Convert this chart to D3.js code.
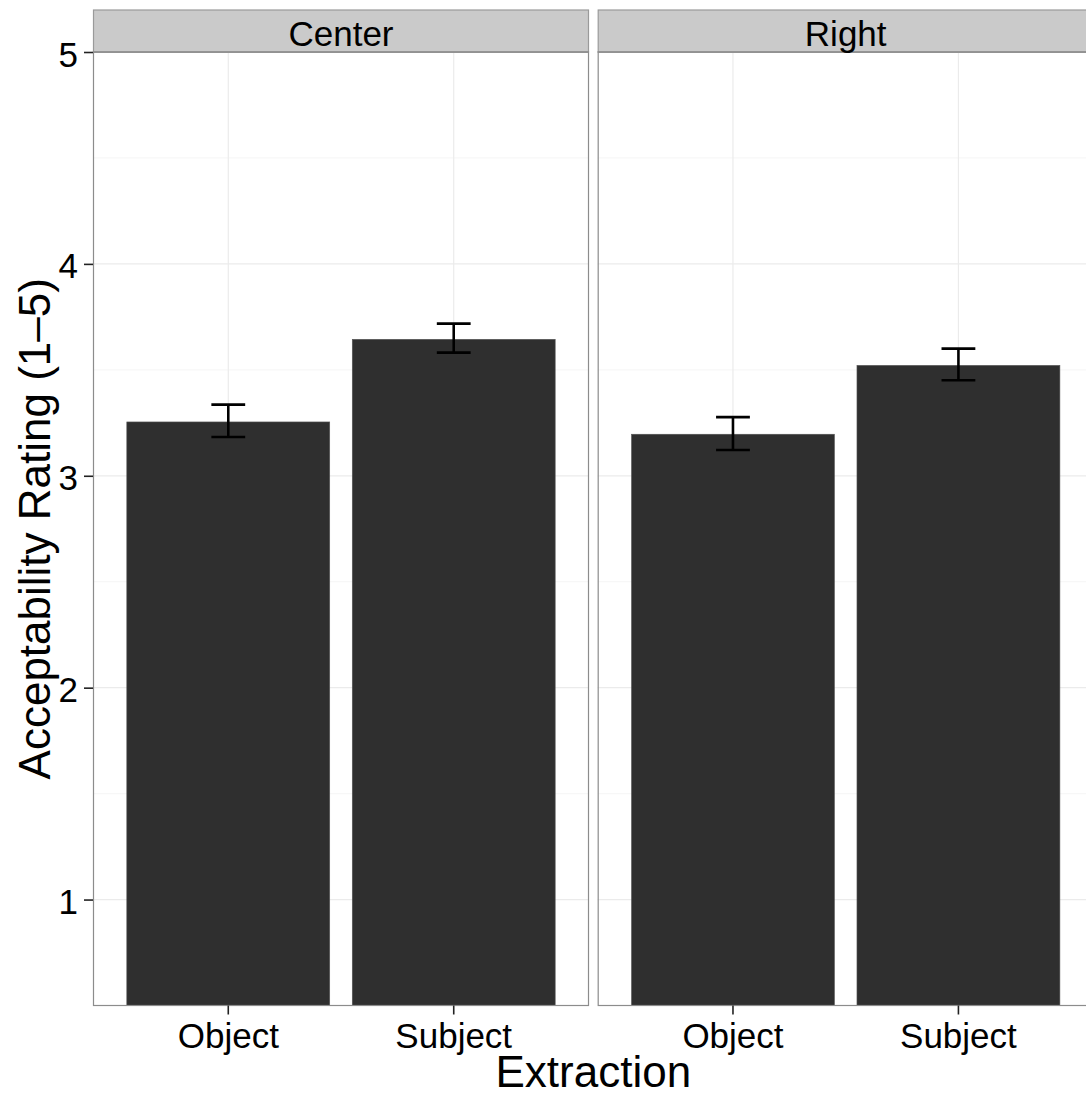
<!DOCTYPE html>
<html>
<head>
<meta charset="utf-8">
<script src="https://cdn.jsdelivr.net/npm/d3@7"></script>
<style>
  html, body { margin: 0; padding: 0; background: #fff; }
  svg { display: block; font-family: "Liberation Sans", Arial, Helvetica, sans-serif; }
</style>
</head>
<body>
<svg id="chart" width="1086" height="1099"></svg>
<script>
// ---- data ----
const panels = ["Center", "Right"];
const categories = ["Object", "Subject"];
const meanCenter = [3.254, 3.644];
const lowerCenter = [3.183, 3.581];
const upperCenter = [3.336, 3.718];
const meanRight = [3.196, 3.521];
const lowerRight = [3.122, 3.451];
const upperRight = [3.277, 3.600];
const yTicks = [1, 2, 3, 4, 5];
const yMinor = [1.5, 2.5, 3.5, 4.5];
const xTitle = "Extraction";
const yTitle = "Acceptability Rating (1\u20135)";

const panelData = [
  { name: panels[0], mean: meanCenter, lo: lowerCenter, hi: upperCenter },
  { name: panels[1], mean: meanRight, lo: lowerRight, hi: upperRight }
];

// ---- layout ----
const svg = d3.select("#chart");
const panelTop = 52, panelBottom = 1005.5;
const stripTop = 10;
const panelW = 496;
const panelLefts = [93, 597.7];

const y = d3.scaleLinear().domain([0.5, 5]).range([panelBottom, panelTop]);
const x = d3.scaleBand().domain(categories).range([0, panelW]).paddingInner(0.1).paddingOuter(0.15);

const tickFont = 35, titleFont = 44;

panelData.forEach((p, i) => {
  const g = svg.append("g").attr("transform", `translate(${panelLefts[i]},0)`);
  // background
  g.append("rect").attr("x", 0).attr("y", panelTop).attr("width", panelW)
    .attr("height", panelBottom - panelTop).attr("fill", "#fff");
  // minor grid
  g.selectAll(".minor").data(yMinor).enter().append("line")
    .attr("x1", 0).attr("x2", panelW)
    .attr("y1", d => y(d)).attr("y2", d => y(d))
    .attr("stroke", "#f7f7f7").attr("stroke-width", 1.2);
  // major grid
  g.selectAll(".major").data(yTicks).enter().append("line")
    .attr("x1", 0).attr("x2", panelW)
    .attr("y1", d => y(d)).attr("y2", d => y(d))
    .attr("stroke", "#ebebeb").attr("stroke-width", 1.2);
  g.selectAll(".vmajor").data(categories).enter().append("line")
    .attr("x1", d => x(d) + x.bandwidth() / 2).attr("x2", d => x(d) + x.bandwidth() / 2)
    .attr("y1", panelTop).attr("y2", panelBottom)
    .attr("stroke", "#ebebeb").attr("stroke-width", 1.2);
  // bars
  g.selectAll(".bar").data(categories).enter().append("rect")
    .attr("x", d => x(d))
    .attr("width", x.bandwidth())
    .attr("y", (d, j) => y(p.mean[j]))
    .attr("height", (d, j) => panelBottom - y(p.mean[j]))
    .attr("fill", "#2f2f2f")
    .attr("stroke", "#555").attr("stroke-width", 0.6);
  // error bars
  const capHalf = x.step() * 0.075;
  categories.forEach((c, j) => {
    const cx = x(c) + x.bandwidth() / 2;
    const eg = g.append("g").attr("stroke", "#000").attr("stroke-width", 2.6);
    eg.append("line").attr("x1", cx).attr("x2", cx).attr("y1", y(p.lo[j])).attr("y2", y(p.hi[j]));
    eg.append("line").attr("x1", cx - capHalf).attr("x2", cx + capHalf).attr("y1", y(p.lo[j])).attr("y2", y(p.lo[j]));
    eg.append("line").attr("x1", cx - capHalf).attr("x2", cx + capHalf).attr("y1", y(p.hi[j])).attr("y2", y(p.hi[j]));
  });
  // panel border
  g.append("rect").attr("x", 0.5).attr("y", panelTop).attr("width", panelW - 1)
    .attr("height", panelBottom - panelTop).attr("fill", "none")
    .attr("stroke", "#8c8c8c").attr("stroke-width", 1.2);
  // strip
  g.append("rect").attr("x", 0.5).attr("y", stripTop).attr("width", panelW - 1)
    .attr("height", panelTop - stripTop).attr("fill", "#cacaca")
    .attr("stroke", "#9a9a9a").attr("stroke-width", 1.2);
  g.append("line").attr("x1", 0).attr("x2", panelW).attr("y1", panelTop).attr("y2", panelTop)
    .attr("stroke", "#8c8c8c").attr("stroke-width", 1.6);
  g.append("text").attr("x", panelW / 2).attr("y", 45.5)
    .attr("text-anchor", "middle").attr("font-size", tickFont).attr("fill", "#000")
    .text(p.name);
  // x axis
  const xa = g.append("g").attr("transform", `translate(0,${panelBottom})`)
    .call(d3.axisBottom(x).tickSize(9).tickPadding(8));
  xa.select(".domain").remove();
  xa.selectAll(".tick line").attr("stroke", "#222").attr("stroke-width", 1.6);
  xa.selectAll(".tick text").attr("font-size", tickFont).attr("fill", "#000")
    .attr("font-family", "Liberation Sans, Arial, sans-serif")
    .attr("dy", null).attr("y", 42.5);
});

// y axis
const ya = svg.append("g").attr("transform", `translate(${panelLefts[0]},0)`)
  .call(d3.axisLeft(y).tickValues(yTicks).tickFormat(d3.format("d")).tickSize(9).tickPadding(6));
ya.select(".domain").remove();
ya.selectAll(".tick line").attr("stroke", "#222").attr("stroke-width", 1.6);
ya.selectAll(".tick text").attr("font-size", tickFont).attr("fill", "#000")
  .attr("font-family", "Liberation Sans, Arial, sans-serif").attr("dy", "0.4em");

// titles
svg.append("text").attr("x", (panelLefts[0] + panelLefts[1] + panelW) / 2).attr("y", 1087)
  .attr("text-anchor", "middle").attr("font-size", titleFont).attr("fill", "#000").text(xTitle);
svg.append("text").attr("transform", `translate(50,${(panelTop + panelBottom) / 2}) rotate(-90)`)
  .attr("text-anchor", "middle").attr("font-size", titleFont).attr("fill", "#000").text(yTitle);
</script>
</body>
</html>
